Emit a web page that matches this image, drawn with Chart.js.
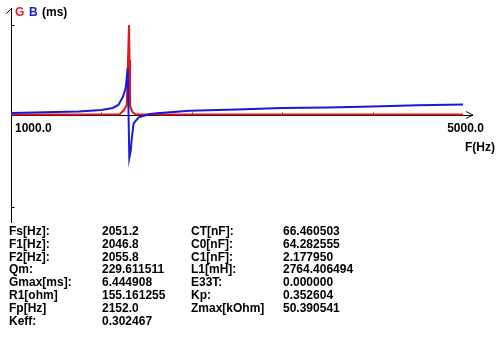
<!DOCTYPE html>
<html>
<head>
<meta charset="utf-8">
<script src="https://cdn.jsdelivr.net/npm/chart.js@4/dist/chart.umd.min.js"></script>
<style>
  html, body { margin:0; padding:0; background:#fff; }
  #wrap { position:relative; width:500px; height:347px; overflow:hidden; }
  canvas { position:absolute; left:0; top:0; }
  .col { position:absolute; top:225px; font: bold 12px "Liberation Sans", Arial, sans-serif; line-height:12.8px; color:#000; white-space:pre; }
</style>
</head>
<body>
<div id="wrap">
  <canvas id="c" width="500" height="347"></canvas>
  <div class="col" id="c1" style="left:9px"></div>
  <div class="col" id="c2" style="left:102px"></div>
  <div class="col" id="c3" style="left:191px"></div>
  <div class="col" id="c4" style="left:283px"></div>
</div>
<script>
// ---- data ----
const gFreq   = [1000, 1900, 1960, 2000, 2025, 2044, 2049, 2053, 2075, 2100, 2150, 3000, 4000, 5000];
const gValues = [0.10, 0.10, 0.11, 0.42, 0.78, 6.44, 3.97, 0.71, 0.28, 0.12, 0.10, 0.10, 0.10, 0.10];

const bFreq   = [1000, 1300, 1600, 1800, 1900, 1950, 1990, 2015, 2033, 2047, 2060, 2070, 2085, 2130, 2230, 2290, 2580, 3000, 3400, 3800, 4200, 4600, 5000];
const bValues = [0.21, 0.26, 0.32, 0.42, 0.57, 0.78, 1.35, 1.98, 3.40, -2.97, -2.41, -1.49, -0.52, -0.09, 0.14, 0.19, 0.37, 0.46, 0.57, 0.60, 0.67, 0.76, 0.81];

const xMin = 1000, xMax = 5000;
const yMax = 6.444908;
const xTickValues = [1800, 2600, 3400, 4200];
const xTickLabels = ["1000.0", "5000.0"];

const paramLabels1 = ["Fs[Hz]:", "F1[Hz]:", "F2[Hz]:", "Qm:", "Gmax[ms]:", "R1[ohm]", "Fp[Hz]", "Keff:"];
const paramValues1 = ["2051.2", "2046.8", "2055.8", "229.611511", "6.444908", "155.161255", "2152.0", "0.302467"];
const paramLabels2 = ["CT[nF]:", "C0[nF]:", "C1[nF]:", "L1[mH]:", "E33T:", "Kp:", "Zmax[kOhm]"];
const paramValues2 = ["66.460503", "64.282555", "2.177950", "2764.406494", "0.000000", "0.352604", "50.390541"];

document.getElementById('c1').textContent = paramLabels1.join('\n');
document.getElementById('c2').textContent = paramValues1.join('\n');
document.getElementById('c3').textContent = paramLabels2.join('\n');
document.getElementById('c4').textContent = paramValues2.join('\n');

const RED = '#e4161e';
const BLUE = '#1a1ad4';
const FONT = 'bold 12px "Liberation Sans", Arial, sans-serif';

const axesPlugin = {
  id: 'axesPlugin',
  beforeDatasetsDraw(chart) {
    const ctx = chart.ctx;
    const xs = chart.scales.x, ys = chart.scales.y;
    const x0 = Math.round(xs.getPixelForValue(xMin)) + 0.5;
    const y0 = Math.round(ys.getPixelForValue(0)) - 0.5;
    const yTop = Math.round(ys.getPixelForValue(yMax)) + 0.5;
    const yBot = Math.round(ys.getPixelForValue(-yMax)) + 0.5;
    ctx.save();
    ctx.strokeStyle = '#000';
    ctx.lineWidth = 1;
    // y axis
    ctx.beginPath();
    ctx.moveTo(x0, 8); ctx.lineTo(x0, 223);
    // arrow (left arm)
    ctx.moveTo(x0, 8.5); ctx.lineTo(x0 - 5, 13.5);
    // y ticks
    ctx.moveTo(x0, yTop); ctx.lineTo(x0 + 3, yTop);
    ctx.moveTo(x0, yBot); ctx.lineTo(x0 + 3, yBot);
    // x axis
    ctx.moveTo(x0, y0); ctx.lineTo(473, y0);
    // x arrow
    ctx.moveTo(466, y0 - 4); ctx.lineTo(473, y0 - 0.5); ctx.lineTo(466, y0 + 3);
    ctx.stroke();
    // x ticks
    ctx.strokeStyle = '#333';
    ctx.beginPath();
    xTickValues.forEach(v => {
      const px = Math.round(xs.getPixelForValue(v)) + 0.5;
      ctx.moveTo(px, y0); ctx.lineTo(px, y0 - 3);
    });
    ctx.stroke();
    ctx.restore();
  },
  afterDraw(chart) {
    const ctx = chart.ctx;
    const xs = chart.scales.x;
    ctx.save();
    ctx.font = FONT;
    ctx.textBaseline = 'alphabetic';
    ctx.textAlign = 'left';
    ctx.fillStyle = RED;  ctx.fillText('G', 15, 16);
    ctx.fillStyle = BLUE; ctx.fillText('B', 29, 16);
    ctx.fillStyle = '#000'; ctx.fillText('(ms)', 42, 16);
    ctx.fillText(xTickLabels[0], xs.getPixelForValue(xMin) + 4, 132);
    ctx.textAlign = 'center';
    ctx.fillText(xTickLabels[1], xs.getPixelForValue(xMax) + 2.5, 132);
    ctx.textAlign = 'left';
    ctx.fillText('F(Hz)', 465, 151);
    ctx.restore();
  }
};

new Chart(document.getElementById('c'), {
  type: 'line',
  data: {
    datasets: [
      { label: 'B', data: bFreq.map((f, i) => ({ x: f, y: bValues[i] })), borderColor: BLUE, borderWidth: 2, pointRadius: 0, tension: 0, fill: false },
      { label: 'G', data: gFreq.map((f, i) => ({ x: f, y: gValues[i] })), borderColor: RED, borderWidth: 2, pointRadius: 0, tension: 0, fill: false }
    ]
  },
  options: {
    responsive: false,
    animation: false,
    devicePixelRatio: 1,
    layout: { padding: { left: 11, right: 37, top: 25, bottom: 140 } },
    plugins: { legend: { display: false }, tooltip: { enabled: false }, title: { display: false } },
    scales: {
      x: { type: 'linear', min: xMin, max: xMax, display: false },
      y: { type: 'linear', min: -yMax, max: yMax, display: false }
    },
    elements: { line: { borderJoinStyle: 'miter' } }
  },
  plugins: [axesPlugin]
});
</script>
</body>
</html>
